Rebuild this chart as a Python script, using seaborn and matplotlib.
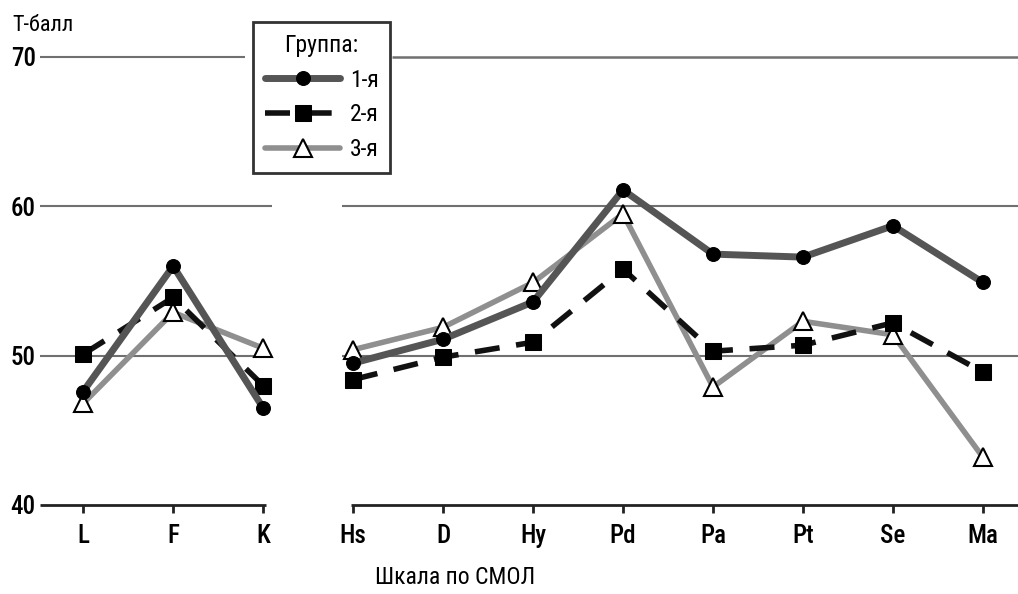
import numpy as np
import pandas as pd
import matplotlib
matplotlib.use('Agg')
import matplotlib.pyplot as plt
from matplotlib import font_manager as fm
import seaborn as sns

# scales of the MMPI (СМОЛ) profile, split into validity and clinical blocks
scales = ['L', 'F', 'K', 'Hs', 'D', 'Hy', 'Pd', 'Pa', 'Pt', 'Se', 'Ma']
n_validity = 3

group1 = [47.6, 56.0, 46.5, 49.5, 51.1, 53.6, 61.1, 56.8, 56.6, 58.7, 54.9]
group2 = [50.1, 53.9, 48.0, 48.4, 49.9, 50.9, 55.8, 50.3, 50.7, 52.2, 48.9]
group3 = [46.8, 52.9, 50.5, 50.4, 51.9, 54.9, 59.5, 47.9, 52.3, 51.4, 43.2]
group_names = ['1-я', '2-я', '3-я']

rows = []
for name, vals in zip(group_names, [group1, group2, group3]):
    for i, (s, v) in enumerate(zip(scales, vals)):
        rows.append({'group': name, 'scale': s, 'pos': i, 'value': v,
                     'block': 0 if i < n_validity else 1})
df = pd.DataFrame(rows)

sns.set_style('white')

# pick a narrow font if one is installed
names = {f.name for f in fm.fontManager.ttflist}
stretches = {(f.name, f.stretch) for f in fm.fontManager.ttflist}
family = 'DejaVu Sans'
stretch = 'normal'
for cand in ['Liberation Sans Narrow', 'Roboto Condensed', 'Open Sans Condensed']:
    if cand in names:
        family = cand
        break
else:
    if ('DejaVu Sans', 'condensed') in stretches or ('DejaVu Sans', 'semi-condensed') in stretches:
        stretch = 'condensed'
plt.rcParams['font.family'] = [family, 'DejaVu Sans']
plt.rcParams['font.stretch'] = stretch
plt.rcParams['text.color'] = 'black'
plt.rcParams['xtick.color'] = 'black'
plt.rcParams['ytick.color'] = 'black'

styles = {
    '1-я': dict(color='#555555', lw=5, marker='o', markersize=10,
                markerfacecolor='black', markeredgecolor='black', linestyle='-', zorder=4),
    '2-я': dict(color='#111111', lw=4, marker='s', markersize=11,
                markerfacecolor='black', markeredgecolor='black', linestyle=(0, (4.5, 3)), zorder=3),
    '3-я': dict(color='#8f8f8f', lw=4, marker='^', markersize=13,
                markerfacecolor='white', markeredgecolor='black', markeredgewidth=1.5,
                linestyle='-', zorder=2),
}

fig = plt.figure(figsize=(10.18, 5.94), dpi=100)
ax = fig.add_axes([40 / 1018, 1 - 505 / 594, 1 - 40 / 1018, (505 - 57) / 594])

for name in group_names:
    for b in (0, 1):
        sub = df[(df['group'] == name) & (df['block'] == b)]
        sns.lineplot(data=sub, x='pos', y='value', ax=ax, label=name if b == 0 else None,
                     clip_on=False, **styles[name])

x_left = -0.48
x_right = 10.39
ax.set_xlim(x_left, x_right)
ax.set_ylim(40, 70)

# broken gridlines around the gap between the two blocks
for y in (50, 60):
    ax.hlines(y, x_left, 2.1, color='#707070', lw=1.5, zorder=1)
    ax.hlines(y, 2.88, x_right, color='#707070', lw=1.5, zorder=1)
ax.hlines(70, x_left, 1.8, color='#707070', lw=1.5, zorder=1, clip_on=False)
ax.hlines(70, 3.43, x_right, color='#707070', lw=1.8, zorder=1, clip_on=False)

# broken x axis
ax.hlines(40, x_left, 2.03, color='#222222', lw=2, zorder=1, clip_on=False)
ax.hlines(40, 2.98, x_right, color='#222222', lw=2, zorder=1, clip_on=False)

for sp in ax.spines.values():
    sp.set_visible(False)

ax.set_xticks(range(len(scales)))
ax.set_xticklabels(scales, fontsize=18, fontweight='medium')
ax.set_yticks([40, 50, 60, 70])
ax.set_yticklabels(['40', '50', '60', '70'], fontsize=18, fontweight='medium')
ax.tick_params(axis='x', bottom=True, direction='out', length=6, width=2, color='#222222', pad=8)
ax.tick_params(axis='y', left=True, length=0, pad=3)
ax.set_xlabel('')
ax.set_ylabel('')
ax.grid(False)

fig.text(0.012, 0.957, 'Т-балл', fontsize=16, va='center', ha='left')
fig.text(0.447, 0.027, 'Шкала по СМОЛ', fontsize=17, va='center', ha='center')

leg = ax.legend(title='Группа:', loc='upper left', bbox_to_anchor=(253 / 1018, 1 - 22 / 594),
                bbox_transform=fig.transFigure, fontsize=17, title_fontsize=17,
                frameon=True, fancybox=False, edgecolor='black', handlelength=3.2,
                borderpad=0.5, labelspacing=0.5, handletextpad=0.4, borderaxespad=0)
leg.get_frame().set_linewidth(2)
leg.set_zorder(10)

fig.savefig('out.png', dpi=100)
